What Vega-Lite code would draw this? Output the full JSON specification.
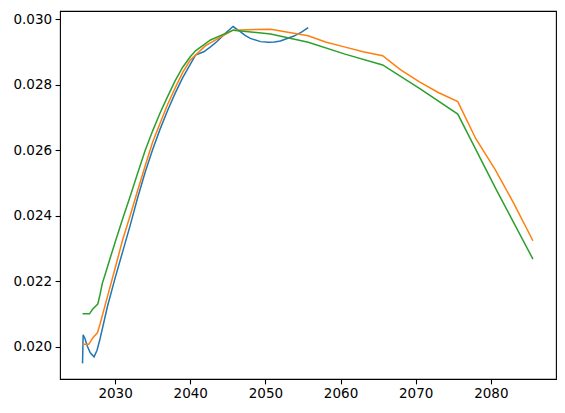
{
  "$schema": "https://vega.github.io/schema/vega-lite/v6.json",
  "width": 496,
  "height": 368,
  "autosize": {"type": "none"},
  "padding": {"left": 60, "top": 11, "right": 9, "bottom": 34},
  "background": "white",
  "config": {
    "view": {"stroke": "black", "strokeWidth": 1.1},
    "font": "DejaVu Sans"
  },
  "data": {
    "values": [
      {"year": 2025.67, "value": 0.0195, "series": "a"},
      {"year": 2025.75, "value": 0.02037, "series": "a"},
      {"year": 2026.0, "value": 0.02025, "series": "a"},
      {"year": 2026.3, "value": 0.02003, "series": "a"},
      {"year": 2026.7, "value": 0.01982, "series": "a"},
      {"year": 2027.2, "value": 0.0197, "series": "a"},
      {"year": 2027.6, "value": 0.0199, "series": "a"},
      {"year": 2028, "value": 0.02025, "series": "a"},
      {"year": 2029, "value": 0.02125, "series": "a"},
      {"year": 2030, "value": 0.0221, "series": "a"},
      {"year": 2031, "value": 0.0229, "series": "a"},
      {"year": 2032, "value": 0.0237, "series": "a"},
      {"year": 2033, "value": 0.02455, "series": "a"},
      {"year": 2034, "value": 0.02533, "series": "a"},
      {"year": 2035, "value": 0.02602, "series": "a"},
      {"year": 2036, "value": 0.02665, "series": "a"},
      {"year": 2037, "value": 0.02722, "series": "a"},
      {"year": 2038, "value": 0.02774, "series": "a"},
      {"year": 2039, "value": 0.02821, "series": "a"},
      {"year": 2040, "value": 0.02862, "series": "a"},
      {"year": 2040.7, "value": 0.0289, "series": "a"},
      {"year": 2041.8, "value": 0.029, "series": "a"},
      {"year": 2042.7, "value": 0.02915, "series": "a"},
      {"year": 2043.6, "value": 0.02932, "series": "a"},
      {"year": 2044.6, "value": 0.02955, "series": "a"},
      {"year": 2045.7, "value": 0.02977, "series": "a"},
      {"year": 2046.7, "value": 0.02961, "series": "a"},
      {"year": 2047.3, "value": 0.0295, "series": "a"},
      {"year": 2048.0, "value": 0.02941, "series": "a"},
      {"year": 2049.35, "value": 0.02931, "series": "a"},
      {"year": 2050.45, "value": 0.02929, "series": "a"},
      {"year": 2051.2, "value": 0.0293, "series": "a"},
      {"year": 2052.0, "value": 0.02933, "series": "a"},
      {"year": 2053.8, "value": 0.02948, "series": "a"},
      {"year": 2054.8, "value": 0.0296, "series": "a"},
      {"year": 2055.7, "value": 0.02974, "series": "a"},

      {"year": 2025.67, "value": 0.02008, "series": "b"},
      {"year": 2026.5, "value": 0.02008, "series": "b"},
      {"year": 2027.0, "value": 0.02027, "series": "b"},
      {"year": 2027.66, "value": 0.02044, "series": "b"},
      {"year": 2028, "value": 0.0207, "series": "b"},
      {"year": 2029, "value": 0.02155, "series": "b"},
      {"year": 2030, "value": 0.0224, "series": "b"},
      {"year": 2031, "value": 0.02326, "series": "b"},
      {"year": 2032, "value": 0.024, "series": "b"},
      {"year": 2033, "value": 0.02477, "series": "b"},
      {"year": 2034, "value": 0.02552, "series": "b"},
      {"year": 2035, "value": 0.02625, "series": "b"},
      {"year": 2036, "value": 0.02683, "series": "b"},
      {"year": 2037, "value": 0.0274, "series": "b"},
      {"year": 2038, "value": 0.0279, "series": "b"},
      {"year": 2039, "value": 0.02837, "series": "b"},
      {"year": 2040, "value": 0.02875, "series": "b"},
      {"year": 2040.7, "value": 0.0289, "series": "b"},
      {"year": 2042, "value": 0.02918, "series": "b"},
      {"year": 2043.5, "value": 0.02938, "series": "b"},
      {"year": 2045.7, "value": 0.02966, "series": "b"},
      {"year": 2050.7, "value": 0.02969, "series": "b"},
      {"year": 2055.7, "value": 0.02949, "series": "b"},
      {"year": 2058, "value": 0.0293, "series": "b"},
      {"year": 2060.5, "value": 0.02915, "series": "b"},
      {"year": 2063, "value": 0.029, "series": "b"},
      {"year": 2065.6, "value": 0.02888, "series": "b"},
      {"year": 2068, "value": 0.02845, "series": "b"},
      {"year": 2070.5, "value": 0.02808, "series": "b"},
      {"year": 2073, "value": 0.02776, "series": "b"},
      {"year": 2075.6, "value": 0.02748, "series": "b"},
      {"year": 2078, "value": 0.02635, "series": "b"},
      {"year": 2080.6, "value": 0.0254, "series": "b"},
      {"year": 2083, "value": 0.0244, "series": "b"},
      {"year": 2085.6, "value": 0.02324, "series": "b"},

      {"year": 2025.67, "value": 0.02101, "series": "c"},
      {"year": 2026.6, "value": 0.02101, "series": "c"},
      {"year": 2027.0, "value": 0.02115, "series": "c"},
      {"year": 2027.7, "value": 0.02131, "series": "c"},
      {"year": 2028.0, "value": 0.0216, "series": "c"},
      {"year": 2028.3, "value": 0.02194, "series": "c"},
      {"year": 2028.8, "value": 0.0223, "series": "c"},
      {"year": 2029.4, "value": 0.02275, "series": "c"},
      {"year": 2030.1, "value": 0.02326, "series": "c"},
      {"year": 2031, "value": 0.0239, "series": "c"},
      {"year": 2032, "value": 0.02459, "series": "c"},
      {"year": 2033, "value": 0.0253, "series": "c"},
      {"year": 2034, "value": 0.02599, "series": "c"},
      {"year": 2035, "value": 0.02659, "series": "c"},
      {"year": 2036, "value": 0.02714, "series": "c"},
      {"year": 2037, "value": 0.02764, "series": "c"},
      {"year": 2038, "value": 0.02812, "series": "c"},
      {"year": 2039, "value": 0.02853, "series": "c"},
      {"year": 2040, "value": 0.02885, "series": "c"},
      {"year": 2040.7, "value": 0.02903, "series": "c"},
      {"year": 2042.7, "value": 0.02936, "series": "c"},
      {"year": 2045.7, "value": 0.02966, "series": "c"},
      {"year": 2050.7, "value": 0.02954, "series": "c"},
      {"year": 2055.7, "value": 0.02929, "series": "c"},
      {"year": 2060.6, "value": 0.02893, "series": "c"},
      {"year": 2065.6, "value": 0.0286, "series": "c"},
      {"year": 2070.6, "value": 0.02787, "series": "c"},
      {"year": 2075.6, "value": 0.0271, "series": "c"},
      {"year": 2080.6, "value": 0.02485, "series": "c"},
      {"year": 2085.6, "value": 0.02268, "series": "c"}
    ]
  },
  "mark": {"type": "line", "strokeWidth": 1.5, "clip": true},
  "encoding": {
    "x": {
      "field": "year",
      "type": "quantitative",
      "scale": {"domain": [2022.67, 2088.67], "nice": false, "zero": false},
      "axis": {
        "title": null,
        "values": [2030, 2040, 2050, 2060, 2070, 2080],
        "format": "d",
        "grid": false,
        "domain": false,
        "tickColor": "black",
        "tickSize": 4.9,
        "tickWidth": 1.1,
        "labelColor": "black",
        "labelFontSize": 13.5,
        "labelPadding": 3,
        "labelFont": "DejaVu Sans"
      }
    },
    "y": {
      "field": "value",
      "type": "quantitative",
      "scale": {"domain": [0.019024, 0.030244], "nice": false, "zero": false},
      "axis": {
        "title": null,
        "values": [0.020, 0.022, 0.024, 0.026, 0.028, 0.030],
        "format": ".3f",
        "grid": false,
        "domain": false,
        "tickColor": "black",
        "tickSize": 4.9,
        "tickWidth": 1.1,
        "labelColor": "black",
        "labelFontSize": 13.5,
        "labelPadding": 3.5,
        "labelFont": "DejaVu Sans"
      }
    },
    "color": {
      "field": "series",
      "type": "nominal",
      "scale": {"domain": ["a", "b", "c"], "range": ["#1f77b4", "#ff7f0e", "#2ca02c"]},
      "legend": null
    }
  }
}
